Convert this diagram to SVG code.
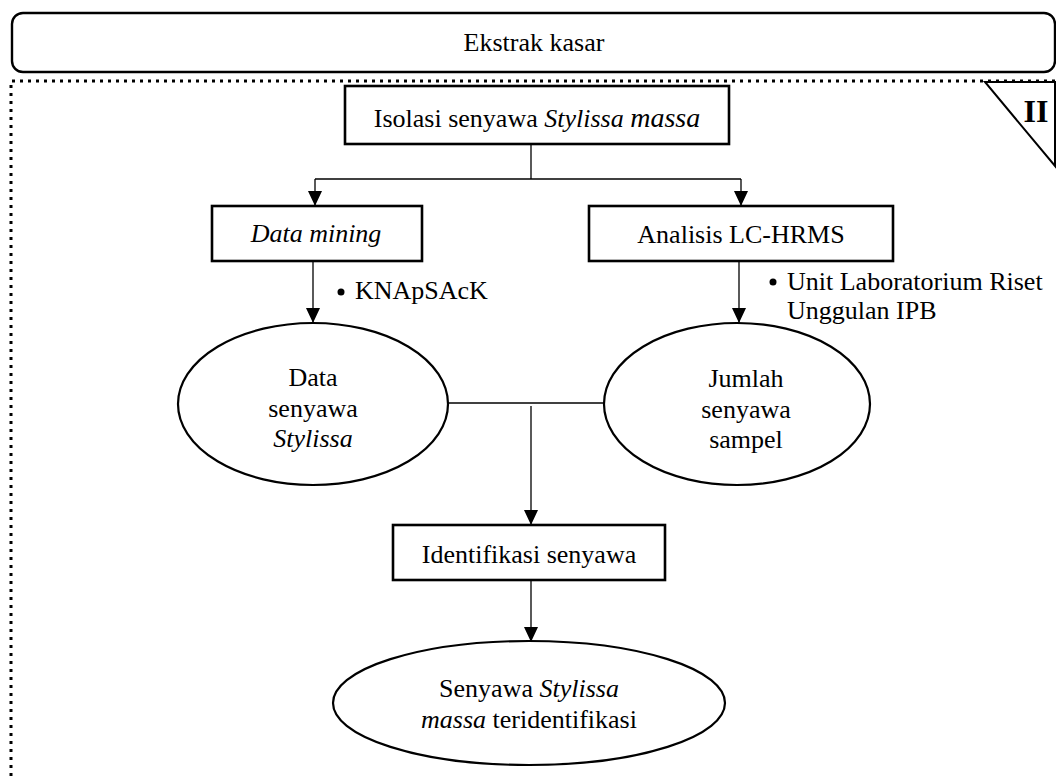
<svg xmlns="http://www.w3.org/2000/svg" width="1056" height="776" viewBox="0 0 1056 776">
<defs>
<marker id="arr" markerUnits="userSpaceOnUse" markerWidth="16" markerHeight="16" viewBox="0 0 16 16" refX="15" refY="8" orient="auto">
<path d="M0,1 L15,8 L0,15 Z" fill="#000"/>
</marker>
<style>
.t{font-family:"Liberation Serif","Times New Roman",serif;font-size:26px;fill:#000}
.i{font-style:italic}
.box{fill:#fff;stroke:#000;stroke-width:2.6}
.ell{fill:#fff;stroke:#000;stroke-width:2.2}
.ln{fill:none;stroke:#000;stroke-width:1.3}
.dot{fill:none;stroke:#000;stroke-width:3;stroke-dasharray:3 5}
</style>
</defs>
<rect width="1056" height="776" fill="#fff"/>
<g id="frame">
<path class="dot" d="M11,776 L11,81 L1056,81"/>
<path d="M985,82 L1055,82 L1055,166 Z" fill="#fff" stroke="#000" stroke-width="2"/>
<text x="1036" y="122" text-anchor="middle" class="t" style="font-size:32px;font-weight:bold">II</text>
</g>
<g id="title">
<rect x="12" y="13" width="1043" height="59" rx="11" fill="#fff" stroke="#000" stroke-width="2.4"/>
<text x="534" y="51" text-anchor="middle" class="t">Ekstrak kasar</text>
</g>
<g id="connectors">
<path class="ln" d="M531,144 L531,179"/>
<path class="ln" d="M315,179 L741,179"/>
<path class="ln" d="M315,179 L315,206" marker-end="url(#arr)"/>
<path class="ln" d="M741,179 L741,206" marker-end="url(#arr)"/>
<path class="ln" d="M313,261 L313,323" marker-end="url(#arr)"/>
<path class="ln" d="M739,261 L739,323" marker-end="url(#arr)"/>
<path class="ln" d="M448,403 L604,403"/>
<path class="ln" d="M531,406 L531,525" marker-end="url(#arr)"/>
<path class="ln" d="M531,580 L531,642" marker-end="url(#arr)"/>
</g>
<g id="isolasi">
<rect class="box" x="345" y="86" width="384" height="58"/>
<text x="537" y="127" text-anchor="middle" class="t">Isolasi senyawa <tspan class="i">Stylissa</tspan> <tspan class="i" style="font-size:28px">massa</tspan></text>
</g>
<g id="datamining">
<rect class="box" x="212" y="206" width="210" height="55"/>
<text x="316" y="242" text-anchor="middle" class="t i">Data mining</text>
</g>
<g id="analisis">
<rect class="box" x="589" y="206" width="304" height="55"/>
<text x="741" y="243" text-anchor="middle" class="t">Analisis LC-HRMS</text>
</g>
<g id="note-knapsack">
<circle cx="341" cy="292" r="3.5" fill="#000"/>
<text x="355" y="299" class="t">KNApSAcK</text>
</g>
<g id="note-lab">
<circle cx="773" cy="282" r="3.5" fill="#000"/>
<text x="787" y="290" class="t">Unit Laboratorium Riset</text>
<text x="787" y="319" class="t">Unggulan IPB</text>
</g>
<g id="datasenyawa">
<ellipse class="ell" cx="313" cy="404" rx="135" ry="81"/>
<text x="313" y="386" text-anchor="middle" class="t">Data</text>
<text x="313" y="417" text-anchor="middle" class="t">senyawa</text>
<text x="313" y="447" text-anchor="middle" class="t i">Stylissa</text>
</g>
<g id="jumlah">
<ellipse class="ell" cx="737" cy="404" rx="133" ry="81"/>
<text x="746" y="387" text-anchor="middle" class="t">Jumlah</text>
<text x="746" y="418" text-anchor="middle" class="t">senyawa</text>
<text x="746" y="448" text-anchor="middle" class="t">sampel</text>
</g>
<g id="identifikasi">
<rect class="box" x="393" y="525" width="272" height="55"/>
<text x="529" y="563" text-anchor="middle" class="t">Identifikasi senyawa</text>
</g>
<g id="hasil">
<ellipse class="ell" cx="529" cy="703" rx="196" ry="62"/>
<text x="529" y="697" text-anchor="middle" class="t">Senyawa <tspan class="i">Stylissa</tspan></text>
<text x="529" y="728" text-anchor="middle" class="t"><tspan class="i">massa</tspan> teridentifikasi</text>
</g>
</svg>
